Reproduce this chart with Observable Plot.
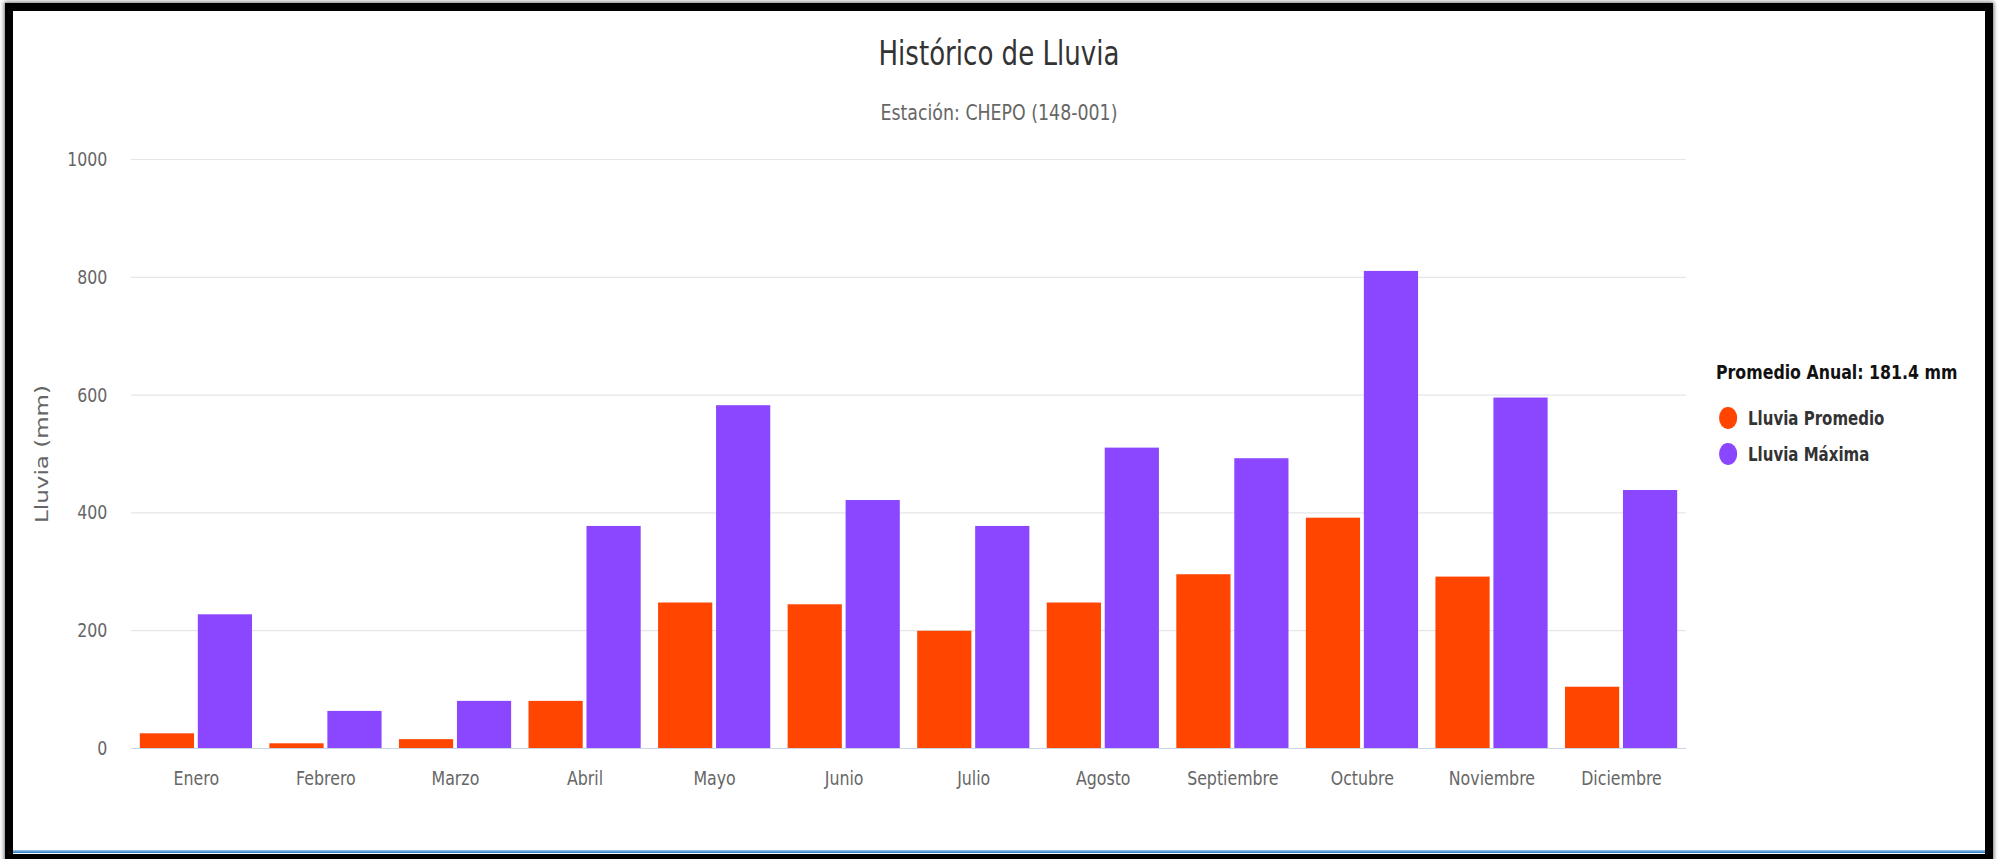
<!DOCTYPE html>
<html>
<head>
<meta charset="utf-8">
<script src="https://cdn.jsdelivr.net/npm/d3@7"></script>
<script src="https://cdn.jsdelivr.net/npm/@observablehq/plot@0.6"></script>
<style>
  html, body { margin: 0; padding: 0; background: #fff; width: 1998px; height: 859px; overflow: hidden; }
  #chart { position: absolute; left: 0; top: 0; height: 859px; transform-origin: 0 0; }
  #chart svg { position: absolute; left: 0; top: 0; }
  .title { position: absolute; left: 0; text-align: center; font-family: "DejaVu Sans", sans-serif; white-space: nowrap; line-height: 1; }
  .legend { position: absolute; font-family: "DejaVu Sans", sans-serif; font-weight: bold; white-space: nowrap; line-height: 1; }
  .legend .item { position: absolute; left: 0; display: flex; align-items: center; }
  .legend .dot { display: inline-block; border-radius: 50%; }
  #frame { position: absolute; left: 5px; top: 3px; width: 1988px; height: 859px; border: 8px solid #000; box-sizing: border-box; box-shadow: 0 0 4px 1px #777; pointer-events: none; }
  #blueline { position: absolute; left: 13px; width: 1973px; top: 850px; height: 3px; background: linear-gradient(#9fcdf0, #1f73c0); }
</style>
</head>
<body>
<div id="chart"></div>
<div id="blueline"></div>
<div id="frame"></div>
<script>
// ---- data ----
const months = ["Enero", "Febrero", "Marzo", "Abril", "Mayo", "Junio", "Julio", "Agosto", "Septiembre", "Octubre", "Noviembre", "Diciembre"];
const lluviaPromedio = [25, 8, 15, 80, 247, 244, 199, 247, 295, 391, 291, 104];
const lluviaMaxima = [227, 63, 80, 377, 582, 421, 377, 510, 492, 810, 595, 438];
const yTicks = [0, 200, 400, 600, 800, 1000];
const seriesNames = ["Lluvia Promedio", "Lluvia Máxima"];
const seriesColors = ["#ff4500", "#8b47ff"];
const titleText = "Histórico de Lluvia";
const subtitleText = "Estación: CHEPO (148-001)";
const legendTitle = "Promedio Anual: 181.4 mm";
const yLabel = "Lluvia (mm)";

const rows = months.map((m, i) => ({mes: m, promedio: lluviaPromedio[i], maxima: lluviaMaxima[i]}));

// ---- layout (reference text is horizontally condensed) ----
const S = 0.79;
const W = Math.round(1998 / S);
const X = v => v / S;

const left = X(131), right = X(1686);
const pInner = 0.136, pOuter = 0.068;
const step = (right - left) / (months.length - pInner + 2 * pOuter);
const bandwidth = step * (1 - pInner);
const half = bandwidth / 2 + X(2);

const chart = document.getElementById("chart");
chart.style.width = W + "px";
chart.style.transform = `scaleX(${S})`;

const plot = Plot.plot({
  width: W,
  height: 859,
  marginLeft: left,
  marginRight: W - right,
  marginTop: 159,
  marginBottom: 111,
  style: {fontFamily: "DejaVu Sans, sans-serif", fontSize: "20px", color: "#666", background: "transparent", overflow: "visible"},
  x: {domain: months, paddingInner: pInner, paddingOuter: pOuter, tickSize: 0, tickPadding: 22, label: null},
  y: {domain: [0, 1000], ticks: yTicks, tickSize: 0, tickPadding: X(24), label: null, tickFormat: d => String(d)},
  marks: [
    Plot.ruleY(yTicks.filter(d => d > 0), {stroke: "#e6e6e6", strokeWidth: 1.2}),
    Plot.barY(rows, {x: "mes", y: "promedio", fill: seriesColors[0], insetRight: half}),
    Plot.barY(rows, {x: "mes", y: "maxima", fill: seriesColors[1], insetLeft: half}),
    Plot.ruleY([0], {stroke: "#ccd6eb", strokeWidth: 1.2}),
    Plot.text([yLabel], {text: d => d, frameAnchor: "left", textAnchor: "middle", lineAnchor: "middle", rotate: -90, dx: -X(131 - 42), fontSize: 23, fill: "#666"})
  ]
});
chart.appendChild(plot);

// titles
const t = document.createElement("div");
t.className = "title";
t.style.width = W + "px";
t.style.top = "37px";
t.style.fontSize = "33px";
t.style.color = "#333";
t.textContent = titleText;
chart.appendChild(t);

const st = document.createElement("div");
st.className = "title";
st.style.width = W + "px";
st.style.top = "102px";
st.style.fontSize = "22px";
st.style.color = "#666";
st.textContent = subtitleText;
chart.appendChild(st);

// legend
const lg = document.createElement("div");
lg.className = "legend";
lg.style.left = X(1716) + "px";
lg.style.top = "0px";
const lt = document.createElement("div");
lt.style.position = "absolute";
lt.style.left = "0px";
lt.style.top = "362px";
lt.style.fontSize = "20px";
lt.style.color = "#111";
lt.textContent = legendTitle;
lg.appendChild(lt);
const itemY = [418, 454];
seriesNames.forEach((name, i) => {
  const it = document.createElement("div");
  it.className = "item";
  it.style.top = (itemY[i] - 12) + "px";
  it.style.height = "24px";
  it.style.left = X(1719 - 1716) + "px";
  const dot = document.createElement("span");
  dot.className = "dot";
  dot.style.width = X(18) + "px";
  dot.style.height = X(18) + "px";
  dot.style.background = seriesColors[i];
  const tx = document.createElement("span");
  tx.style.fontSize = "19px";
  tx.style.color = "#333";
  tx.style.marginLeft = X(1748 - 1737) + "px";
  tx.textContent = name;
  it.appendChild(dot);
  it.appendChild(tx);
  lg.appendChild(it);
});
chart.appendChild(lg);
</script>
</body>
</html>
